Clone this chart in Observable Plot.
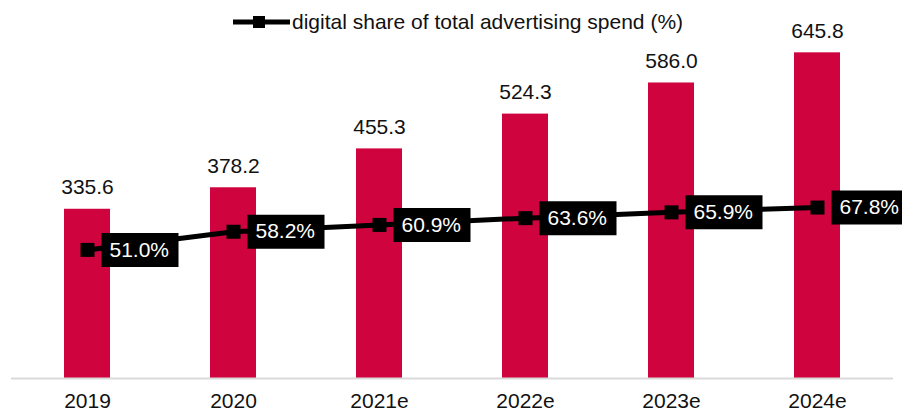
<!DOCTYPE html>
<html>
<head>
<meta charset="utf-8">
<script src="https://cdn.jsdelivr.net/npm/d3@7"></script>
<script src="https://cdn.jsdelivr.net/npm/@observablehq/plot@0.6"></script>
<style>
  html, body { margin: 0; padding: 0; background: #fff; }
  #wrap { position: relative; width: 902px; height: 412px; font-family: "Liberation Sans", Arial, sans-serif; }
  #legend { position: absolute; left: 233px; top: 10px; height: 24px; line-height: 24px; font-size: 21px; color: #111; display: flex; align-items: center; white-space: nowrap; }
  #legend svg { margin-right: 2px; }
</style>
</head>
<body>
<div id="wrap">
  <div id="chart"></div>
  <div id="legend"></div>
</div>
<script>
const years = ["2019", "2020", "2021e", "2022e", "2023e", "2024e"];
const spend = [335.6, 378.2, 455.3, 524.3, 586.0, 645.8];
const digitalShare = [51.0, 58.2, 60.9, 63.6, 65.9, 67.8];
const legendLabel = "digital share of total advertising spend (%)";

// secondary axis: 0–140 % maps onto primary 0–700
const secondaryFactor = 700 / 140;

const data = years.map((y, i) => ({year: y, spend: spend[i], share: digitalShare[i], shareScaled: digitalShare[i] * secondaryFactor}));

const barColor = "#cf033d";
const font = "Liberation Sans, Arial, sans-serif";

const labelBox = {
  draw(context) {
    context.rect(14, -17, 77, 34);
  }
};

const chart = Plot.plot({
  width: 902,
  height: 412,
  marginLeft: 11,
  marginRight: 9,
  marginTop: 25,
  marginBottom: 34,
  style: {fontFamily: font, fontSize: "21px", color: "#111", background: "transparent"},
  x: {domain: years, paddingInner: 0.687, paddingOuter: 0.345, label: null, tickSize: 0, tickPadding: 15},
  y: {domain: [0, 700], axis: null},
  marks: [
    Plot.barY(data, {x: "year", y: "spend", fill: barColor}),
    Plot.ruleY([0], {stroke: "#d9d9d9", strokeWidth: 2}),
    Plot.text(data, {x: "year", y: "spend", text: d => d.spend.toFixed(1), lineAnchor: "bottom", dy: -15, fill: "#111", fontSize: 21}),
    Plot.line(data, {x: "year", y: "shareScaled", stroke: "#000", strokeWidth: 5}),
    Plot.dot(data, {x: "year", y: "shareScaled", symbol: "square", r: 7.9, fill: "#000", stroke: "none"}),
    Plot.dot(data, {x: "year", y: "shareScaled", symbol: labelBox, r: 10, fill: "#000", stroke: "none"}),
    Plot.text(data, {x: "year", y: "shareScaled", text: d => d.share.toFixed(1) + "%", textAnchor: "start", dx: 22, fill: "#fff", fontSize: 21})
  ]
});
document.getElementById("chart").appendChild(chart);

// legend
const lg = document.getElementById("legend");
lg.innerHTML = `<svg width="57" height="14" viewBox="0 0 57 14"><line x1="0" y1="7" x2="57" y2="7" stroke="#000" stroke-width="5"/><rect x="20" y="1" width="12" height="12" fill="#000"/></svg><span>${legendLabel}</span>`;
</script>
</body>
</html>
